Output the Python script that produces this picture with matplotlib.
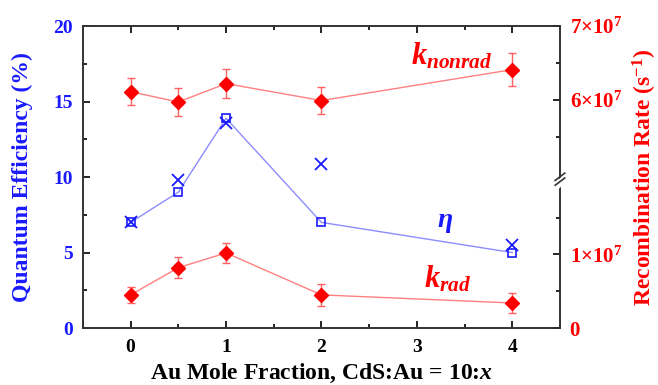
import numpy as np
import matplotlib
matplotlib.use("Agg")
import matplotlib.pyplot as plt
from matplotlib.ticker import FixedLocator, MultipleLocator

plt.rcParams['font.family'] = ['Liberation Serif', 'DejaVu Serif']
plt.rcParams['font.weight'] = 'bold'
plt.rcParams['mathtext.fontset'] = 'custom'
plt.rcParams['mathtext.rm'] = 'Liberation Serif:bold'
plt.rcParams['mathtext.bf'] = 'Liberation Serif:bold'
plt.rcParams['mathtext.it'] = 'Liberation Serif:italic:bold'

# Au mole fraction x in CdS:Au = 10:x
x = [0, 0.5, 1, 2, 4]

# quantum efficiency (%)
qe_sq = [7.0, 9.0, 13.9, 7.0, 5.0]
qe_cross = [7.0, 9.8, 13.6, 10.9, 5.5]

# recombination rates (s^-1)
k_nonrad = [6.11e7, 5.97e7, 6.22e7, 5.99e7, 6.41e7]
k_nonrad_err = [0.18e7, 0.19e7, 0.20e7, 0.18e7, 0.22e7]
k_rad = [0.45e7, 0.82e7, 1.02e7, 0.45e7, 0.34e7]
k_rad_err = [0.11e7, 0.14e7, 0.14e7, 0.15e7, 0.14e7]

blue = '#1a1aff'
red = '#ff0000'

# broken right axis: 0..2.05e7 and 4.95e7..7e7 share the height
lo_top, hi_bot = 2.05e7, 4.95e7
gap = hi_bot - lo_top

def fwd(v):
    v = np.asarray(v, dtype=float)
    return np.minimum(v, lo_top) + np.maximum(v - hi_bot, 0)

def inv(m):
    m = np.asarray(m, dtype=float)
    return np.where(m <= lo_top, m, m + gap)

fig = plt.figure(figsize=(6.58, 3.85), dpi=100)
ax = fig.add_axes([0.126, 0.148, 0.725, 0.784])
ax2 = ax.twinx()

ax.plot(x, qe_sq, '-', color='#8c8cff', lw=1.0, zorder=2)
ax.plot(x, qe_sq, 's', ms=6, mfc='none', mec=blue, mew=1.2, zorder=3)
ax.plot(x, qe_cross, 'x', ms=8, color=blue, mew=1.3, zorder=3)

ax2.set_yscale('function', functions=(fwd, inv))
for vals, errs in [(k_nonrad, k_nonrad_err), (k_rad, k_rad_err)]:
    ax2.plot(x, vals, '-', color='#ff8080', lw=1.0)
    ax2.errorbar(x, vals, yerr=errs, fmt='D', ms=7, color=red, ecolor='#ff6060',
                 elinewidth=1.0, capsize=3, capthick=1.0)

ax.set_xlim(-0.5, 4.5)
ax.set_ylim(0, 20)
ax2.set_ylim(0, 7e7)

ax.xaxis.set_major_locator(MultipleLocator(1))
ax.xaxis.set_minor_locator(MultipleLocator(0.5))
ax.yaxis.set_major_locator(MultipleLocator(5))
ax.yaxis.set_minor_locator(MultipleLocator(2.5))
ax.tick_params(axis='both', which='both', direction='in', top=True, width=1.2)
ax.tick_params(axis='both', which='major', length=5, labelsize=14)
ax.tick_params(axis='both', which='minor', length=3)
ax.tick_params(axis='x', pad=8)
ax.tick_params(axis='y', labelcolor=blue, pad=7)

r_major = [0, 1e7, 6e7, 7e7]
ax2.yaxis.set_major_locator(FixedLocator(r_major))
ax2.yaxis.set_minor_locator(FixedLocator([0.5e7, 1.5e7, 5.5e7, 6.5e7]))
ax2.set_yticklabels(['0', '1×10$^{7}$', '6×10$^{7}$', '7×10$^{7}$'])
ax2.tick_params(axis='y', which='both', direction='in', width=1.2, labelcolor=red,
                labelsize=15, pad=7)
ax2.tick_params(axis='y', which='major', length=5)
ax2.tick_params(axis='y', which='minor', length=3)

for a in (ax, ax2):
    for s in a.spines.values():
        s.set_linewidth(1.2)
        s.set_color('#333333')

# break marks on the right spine
yb = 0.497
ax2.plot([0.992, 1.008], [yb - 0.028, yb - 0.005], transform=ax2.transAxes,
         color='white', lw=5, clip_on=False, zorder=5, solid_capstyle='butt')
for dy in (-0.012, 0.004):
    ax2.plot([0.99, 1.01], [yb + dy - 0.012, yb + dy + 0.012],
             transform=ax2.transAxes, color='#333333', lw=1.2, clip_on=False,
             zorder=6)

ax.set_xlabel(r'Au Mole Fraction, CdS:Au = 10:$x$', fontsize=17,
              fontweight='bold', labelpad=4)
ax.set_ylabel('Quantum Efficiency (%)', fontsize=17, fontweight='bold',
              color=blue, labelpad=15)
ax2.set_ylabel(r'Recombination Rate (s$^{-1}$)', fontsize=17, fontweight='bold',
               color=red, labelpad=6)

ax.text(3.37, 18.0, r'$k_{nonrad}$', color=red, fontsize=22, ha='center', va='center')
ax.text(3.3, 7.0, r'$\eta$', color=blue, fontsize=20, ha='center', va='center')
ax.text(3.32, 3.2, r'$k_{rad}$', color=red, fontsize=22, ha='center', va='center')

fig.savefig('out.png', dpi=100)
